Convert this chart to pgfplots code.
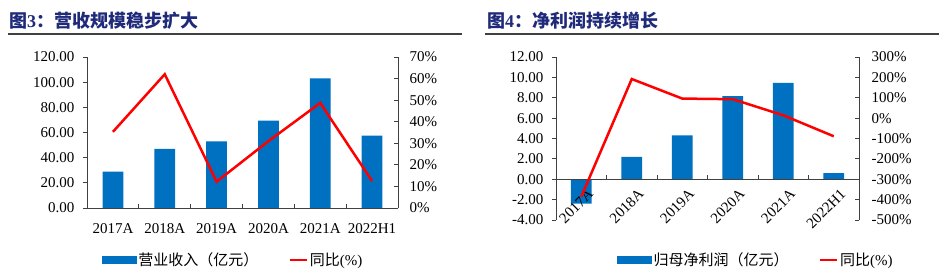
\documentclass[border=0pt]{standalone}
\usepackage{pgfplots}
\pgfplotsset{compat=1.18}
\usepackage{fontspec}
\setmainfont{Liberation Serif}
\newfontfamily\cjk{Noto Sans CJK SC}
\definecolor{barblue}{HTML}{0070C0}
\definecolor{titleblue}{HTML}{1F2A7A}
\definecolor{axgray}{HTML}{404040}
\definecolor{rulegray}{HTML}{404040}
\pgfplotsset{
  common/.style={
    scale only axis,
    anchor=south west,
    xmin=-0.5, xmax=5.5,
    axis on top,
    axis line style={axgray, line width=0.8pt},
    every tick/.style={axgray, line width=0.8pt},
    tick label style={font=\fontsize{15}{18}\selectfont, text=black},
    major tick length=4pt,
  },
  barleg/.style={legend image code/.code={\fill[barblue] (0pt,-3.5pt) rectangle (34pt,3.5pt);}},
}
\begin{document}
\begin{tikzpicture}
\useasboundingbox (0pt,0pt) rectangle (939pt,273pt);
% ---------- titles ----------
\node[anchor=west, inner sep=0pt, text=titleblue] at (9pt,252pt) {\fontsize{18}{20}\selectfont{\cjk\bfseries 图}\textbf{3}{\cjk\bfseries ：营收规模稳步扩大}};
\draw[rulegray, line width=2pt] (8pt,239pt) -- (462pt,239pt);
\node[anchor=west, inner sep=0pt, text=titleblue] at (487pt,252pt) {\fontsize{18}{20}\selectfont{\cjk\bfseries 图}\textbf{4}{\cjk\bfseries ：净利润持续增长}};
\draw[rulegray, line width=2pt] (485pt,239pt) -- (939pt,239pt);

% ---------- chart 1 ----------
\begin{axis}[common,
  at={(87pt,65pt)}, width=311pt, height=151pt,
  ymin=0, ymax=120,
  axis y line*=left, axis x line*=bottom,
  ytick={0,20,...,120},
  yticklabels={0.00,20.00,40.00,60.00,80.00,100.00,120.00},
  yticklabel style={xshift=-5pt},
  tick align=outside,
  xtick={0,...,5},
  xticklabels={2017A,2018A,2019A,2020A,2021A,2022H1},
  xticklabel style={yshift=-8pt},
  xtick style={draw=none},
  extra x ticks={0.5,1.5,2.5,3.5,4.5},
  extra x tick labels={},
  extra x tick style={tick align=inside, xtick style={draw=axgray}},
]
\addplot[ybar, bar width=20.7pt, fill=barblue, draw=none] coordinates {
 (0,29) (1,47) (2,53) (3,69.5) (4,103) (5,57.5)};
\end{axis}
\begin{axis}[common,
  at={(87pt,65pt)}, width=311pt, height=151pt,
  ymin=0, ymax=70,
  axis y line*=right, axis x line=none,
  ytick={0,10,...,70},
  yticklabels={0\%,10\%,20\%,30\%,40\%,50\%,60\%,70\%},
  yticklabel style={xshift=8pt},
  tick align=inside,
  legend style={at={(0.47,-0.344)}, anchor=center, draw=none, fill=none,
    legend columns=2, font=\fontsize{15}{18}\selectfont,
    /tikz/every even column/.append style={column sep=28pt},
    legend cell align=left, inner sep=0pt},
]
\addlegendimage{barleg}
\addlegendentry{\cjk 营业收入（亿元）}
\addplot[red, line width=2.5pt, mark=none] coordinates {
 (0,35.3) (1,62) (2,12.2) (3,31) (4,48.7) (5,12.5)};
\addlegendentry{{\cjk 同比}(\%)}
\end{axis}

% ---------- chart 2 ----------
\begin{axis}[common,
  at={(556pt,53pt)}, width=303pt, height=163pt,
  ymin=-4, ymax=12,
  axis y line*=left, axis x line*=middle,
  ytick={-4,-2,...,12},
  yticklabels={-4.00,-2.00,0.00,2.00,4.00,6.00,8.00,10.00,12.00},
  yticklabel style={xshift=-5pt},
  tick align=outside,
  xtick={0,...,5},
  xticklabels={2017A,2018A,2019A,2020A,2021A,2022H1},
  xticklabel style={rotate=45, anchor=north east, yshift=-4pt, xshift=4pt},
  xtick style={draw=none},
  extra x ticks={0.5,1.5,2.5,3.5,4.5},
  extra x tick labels={},
  extra x tick style={tick align=inside, xtick style={draw=axgray}},
]
\addplot[ybar, bar width=20.7pt, fill=barblue, draw=none] coordinates {
 (0,-2.4) (1,2.2) (2,4.3) (3,8.15) (4,9.45) (5,0.6)};
\end{axis}
\begin{axis}[common,
  at={(556pt,53pt)}, width=303pt, height=163pt,
  ymin=-500, ymax=300,
  axis y line*=right, axis x line=none,
  ytick={-500,-400,...,300},
  yticklabels={-500\%,-400\%,-300\%,-200\%,-100\%,0\%,100\%,200\%,300\%},
  yticklabel style={xshift=9pt},
  tick align=inside,
  legend style={at={(0.66,-0.245)}, anchor=center, draw=none, fill=none,
    legend columns=2, font=\fontsize{15}{18}\selectfont,
    /tikz/every even column/.append style={column sep=28pt},
    legend cell align=left, inner sep=0pt},
]
\addlegendimage{barleg}
\addlegendentry{\cjk 归母净利润（亿元）}
\addplot[red, line width=2.5pt, mark=none] coordinates {
 (0,-386) (1,192) (2,96) (3,93) (4,14) (5,-89)};
\addlegendentry{{\cjk 同比}(\%)}
\end{axis}
\end{tikzpicture}
\end{document}
